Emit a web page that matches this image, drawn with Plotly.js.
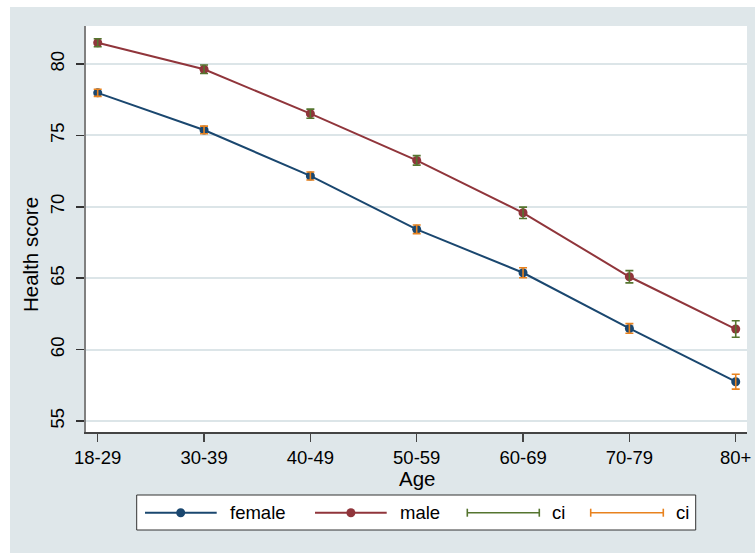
<!DOCTYPE html>
<html>
<head>
<meta charset="utf-8">
<script src="https://cdn.plot.ly/plotly-3.0.1.min.js"></script>
<style>
  html, body { margin: 0; padding: 0; background: #ffffff; }
  #chart { position: absolute; left: 10px; top: 7px; width: 745px; height: 546px; }
</style>
</head>
<body>
<div id="chart"></div>
<script>
// ---- data ----
const ageGroups = ["18-29", "30-39", "40-49", "50-59", "60-69", "70-79", "80+"];
const femaleScore = [77.98, 75.38, 72.16, 68.42, 65.38, 61.48, 57.75];
const maleScore   = [81.49, 79.63, 76.52, 73.25, 69.58, 65.10, 61.44];
const femaleCiHalf = [0.25, 0.27, 0.28, 0.30, 0.35, 0.34, 0.52];
const maleCiHalf   = [0.28, 0.30, 0.32, 0.33, 0.40, 0.43, 0.58];
const yTicks = [55, 60, 65, 70, 75, 80];
const legendLabels = ["female", "male", "ci", "ci"];
const xTitle = "Age";
const yTitle = "Health score";

// ---- styles ----
const NAVY = "#1a476f", MAROON = "#90353b", GREEN = "#55752f", ORANGE = "#e8821e";
const BG = "#dfe7ea", GRID = "#dce5e8";
const FONT = "Liberation Sans, Arial, sans-serif";

// plot-area pixel geometry on the page (for placing decorations)
const PL = 86, PR = 747, PT = 26, PB = 432;
const px = x => (x - PL) / (PR - PL);
const py = y => (PB - y) / (PB - PT);

const traces = [
  { x: ageGroups, y: femaleScore, type: "scatter", mode: "lines+markers",
    line: { color: NAVY, width: 2 }, marker: { color: NAVY, size: 9 }, name: legendLabels[0] },
  { x: ageGroups, y: maleScore, type: "scatter", mode: "lines+markers",
    line: { color: MAROON, width: 2 }, marker: { color: MAROON, size: 9 }, name: legendLabels[1] },
  { x: ageGroups, y: maleScore, type: "scatter", mode: "markers",
    marker: { size: 1, color: "rgba(0,0,0,0)" }, name: legendLabels[2],
    error_y: { type: "data", array: maleCiHalf, visible: true, color: GREEN, thickness: 1.6, width: 4 } },
  { x: ageGroups, y: femaleScore, type: "scatter", mode: "markers",
    marker: { size: 1, color: "rgba(0,0,0,0)" }, name: legendLabels[3],
    error_y: { type: "data", array: femaleCiHalf, visible: true, color: ORANGE, thickness: 1.6, width: 4 } }
];

// custom legend (Stata style)
const LY = 512.7;
const shapes = [
  { type: "rect", xref: "paper", yref: "paper", x0: px(136.7), x1: px(695.7), y0: py(495), y1: py(530),
    line: { color: "#333333", width: 1 }, fillcolor: "#ffffff", layer: "above" },
  // female
  { type: "line", xref: "paper", yref: "paper", x0: px(145), x1: px(216.7), y0: py(LY), y1: py(LY),
    line: { color: NAVY, width: 2 } },
  { type: "circle", xref: "paper", yref: "paper", x0: px(176.2), x1: px(185.2), y0: py(LY - 4.5), y1: py(LY + 4.5),
    line: { width: 0 }, fillcolor: NAVY },
  // male
  { type: "line", xref: "paper", yref: "paper", x0: px(315), x1: px(386.7), y0: py(LY), y1: py(LY),
    line: { color: MAROON, width: 2 } },
  { type: "circle", xref: "paper", yref: "paper", x0: px(346.4), x1: px(355.4), y0: py(LY - 4.5), y1: py(LY + 4.5),
    line: { width: 0 }, fillcolor: MAROON },
  // green ci
  { type: "line", xref: "paper", yref: "paper", x0: px(467.3), x1: px(539.3), y0: py(LY), y1: py(LY),
    line: { color: GREEN, width: 1.6 } },
  { type: "line", xref: "paper", yref: "paper", x0: px(467.3), x1: px(467.3), y0: py(LY - 4), y1: py(LY + 4),
    line: { color: GREEN, width: 1.6 } },
  { type: "line", xref: "paper", yref: "paper", x0: px(539.3), x1: px(539.3), y0: py(LY - 4), y1: py(LY + 4),
    line: { color: GREEN, width: 1.6 } },
  // orange ci
  { type: "line", xref: "paper", yref: "paper", x0: px(590.7), x1: px(663.3), y0: py(LY), y1: py(LY),
    line: { color: ORANGE, width: 1.6 } },
  { type: "line", xref: "paper", yref: "paper", x0: px(590.7), x1: px(590.7), y0: py(LY - 4), y1: py(LY + 4),
    line: { color: ORANGE, width: 1.6 } },
  { type: "line", xref: "paper", yref: "paper", x0: px(663.3), x1: px(663.3), y0: py(LY - 4), y1: py(LY + 4),
    line: { color: ORANGE, width: 1.6 } }
];

const legendTextX = [228.3, 398.3, 550, 674];
const annotations = legendLabels.map((t, i) => ({
  text: t, xref: "paper", yref: "paper", x: px(legendTextX[i]), y: py(LY),
  xanchor: "left", yanchor: "middle", showarrow: false,
  font: { family: FONT, size: 18.5, color: "#000000" }
}));
annotations.push({
  text: xTitle, xref: "paper", yref: "paper", x: px(416.5), y: py(478),
  xanchor: "center", yanchor: "middle", showarrow: false,
  font: { family: FONT, size: 20.5, color: "#000000" }
});
annotations.push({
  text: yTitle, xref: "paper", yref: "paper", x: px(30), y: py(255),
  xanchor: "center", yanchor: "middle", textangle: -90, showarrow: false,
  font: { family: FONT, size: 20.5, color: "#000000" }
});

const layout = {
  width: 745, height: 546,
  margin: { l: PL - 10, r: 755 - PR, t: PT - 7, b: 553 - PB, pad: 0 },
  paper_bgcolor: BG, plot_bgcolor: "#ffffff",
  showlegend: false,
  font: { family: FONT, size: 18.5, color: "#000000" },
  xaxis: {
    type: "category", categoryarray: ageGroups, range: [-0.11, 6.106],
    showgrid: false, zeroline: false,
    showline: true, linecolor: "#444444", linewidth: 1.5,
    ticks: "outside", ticklen: 8, tickwidth: 1.5, tickcolor: "#444444",
    tickfont: { family: FONT, size: 18.5, color: "#000000" }
  },
  yaxis: {
    range: [54.23, 82.66], tickvals: yTicks, ticktext: yTicks.map(String),
    showgrid: true, gridcolor: GRID, gridwidth: 2, zeroline: false,
    showline: true, linecolor: "#808080", linewidth: 2,
    ticks: "outside", ticklen: 8, tickwidth: 1.5, tickcolor: "#333333",
    tickangle: -90, ticklabelstandoff: 5,
    tickfont: { family: FONT, size: 18.5, color: "#000000" }
  },
  shapes: shapes,
  annotations: annotations
};

Plotly.newPlot("chart", traces, layout, { displayModeBar: false, staticPlot: true });
</script>
</body>
</html>
